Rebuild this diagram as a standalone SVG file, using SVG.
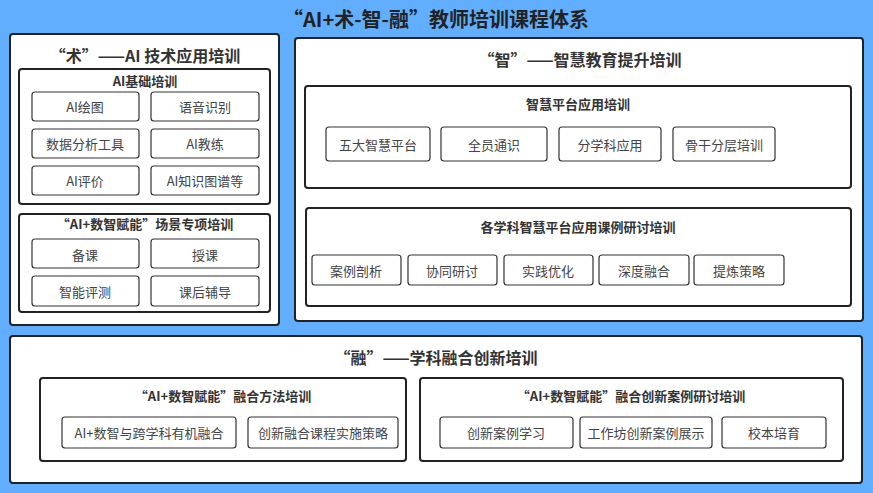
<svg xmlns="http://www.w3.org/2000/svg" width="873" height="493" viewBox="0 0 873 493">
<style>
text{font-family:"Noto Sans CJK SC","Liberation Sans",sans-serif;fill:#333;text-anchor:middle;dominant-baseline:central}
.o{fill:#fff;stroke:#222;stroke-width:2}
.b{fill:#fff;stroke:#333;stroke-width:1.2}
.t{font-size:20px;font-weight:bold;fill:#222}
.h{font-size:16px;font-weight:bold}
.s{font-size:13px;font-weight:bold}
.l{font-size:13px;fill:#444}
</style>
<rect width="873" height="493" fill="#62aefe"/>
<text class="t" x="436" y="18">“AI+术-智-融”教师培训课程体系</text>
<g id="shu">
<rect class="o" x="10" y="34" width="269" height="291" rx="3"/>
<text class="h" x="145" y="55">“术”——AI 技术应用培训</text>
<g id="ai-basic">
<rect class="o" x="19" y="69" width="251" height="135" rx="3"/>
<text class="s" x="145" y="80">AI基础培训</text>
<rect class="b" x="32" y="92" width="107" height="29" rx="3"/><text class="l" x="85" y="106">AI绘图</text>
<rect class="b" x="151" y="92" width="108" height="29" rx="3"/><text class="l" x="205" y="106">语音识别</text>
<rect class="b" x="32" y="129" width="107" height="29" rx="3"/><text class="l" x="85" y="143">数据分析工具</text>
<rect class="b" x="151" y="129" width="108" height="29" rx="3"/><text class="l" x="205" y="143">AI教练</text>
<rect class="b" x="32" y="166" width="107" height="29" rx="3"/><text class="l" x="85" y="180">AI评价</text>
<rect class="b" x="151" y="166" width="108" height="29" rx="3"/><text class="l" x="205" y="180">AI知识图谱等</text>
</g>
<g id="scene">
<rect class="o" x="19" y="214" width="251" height="98" rx="3"/>
<text class="s" x="145" y="223">“AI+数智赋能”场景专项培训</text>
<rect class="b" x="32" y="239" width="107" height="29" rx="3"/><text class="l" x="85" y="254">备课</text>
<rect class="b" x="151" y="239" width="108" height="29" rx="3"/><text class="l" x="205" y="254">授课</text>
<rect class="b" x="32" y="276" width="107" height="30" rx="3"/><text class="l" x="85" y="291">智能评测</text>
<rect class="b" x="151" y="276" width="108" height="30" rx="3"/><text class="l" x="205" y="291">课后辅导</text>
</g>
</g>
<g id="zhi">
<rect class="o" x="295" y="38" width="568" height="283" rx="3"/>
<text class="h" x="580" y="59">“智”——智慧教育提升培训</text>
<g id="platform">
<rect class="o" x="305" y="86" width="546" height="102" rx="3"/>
<text class="s" x="578" y="103">智慧平台应用培训</text>
<rect class="b" x="326" y="127" width="104" height="34" rx="3"/><text class="l" x="378" y="144">五大智慧平台</text>
<rect class="b" x="441" y="127" width="106" height="34" rx="3"/><text class="l" x="494" y="144">全员通识</text>
<rect class="b" x="559" y="127" width="102" height="34" rx="3"/><text class="l" x="610" y="144">分学科应用</text>
<rect class="b" x="673" y="127" width="102" height="34" rx="3"/><text class="l" x="724" y="144">骨干分层培训</text>
</g>
<g id="cases">
<rect class="o" x="306" y="208" width="545" height="98" rx="3"/>
<text class="s" x="578" y="226">各学科智慧平台应用课例研讨培训</text>
<rect class="b" x="312" y="255" width="89" height="30" rx="3"/><text class="l" x="356" y="270">案例剖析</text>
<rect class="b" x="408" y="255" width="89" height="30" rx="3"/><text class="l" x="452" y="270">协同研讨</text>
<rect class="b" x="504" y="255" width="89" height="30" rx="3"/><text class="l" x="548" y="270">实践优化</text>
<rect class="b" x="599" y="255" width="90" height="30" rx="3"/><text class="l" x="644" y="270">深度融合</text>
<rect class="b" x="694" y="255" width="90" height="30" rx="3"/><text class="l" x="739" y="270">提炼策略</text>
</g>
</g>
<g id="rong">
<rect class="o" x="10" y="336" width="852" height="147" rx="3"/>
<text class="h" x="436" y="357">“融”——学科融合创新培训</text>
<g id="method">
<rect class="o" x="40" y="378" width="366" height="83" rx="3"/>
<text class="s" x="223" y="395">“AI+数智赋能”融合方法培训</text>
<rect class="b" x="62" y="417" width="174" height="31" rx="3"/><text class="l" x="149" y="432">AI+数智与跨学科有机融合</text>
<rect class="b" x="248" y="417" width="150" height="31" rx="3"/><text class="l" x="323" y="432">创新融合课程实施策略</text>
</g>
<g id="innov">
<rect class="o" x="420" y="378" width="423" height="83" rx="3"/>
<text class="s" x="631" y="395">“AI+数智赋能”融合创新案例研讨培训</text>
<rect class="b" x="440" y="417" width="133" height="31" rx="3"/><text class="l" x="506" y="432">创新案例学习</text>
<rect class="b" x="580" y="417" width="132" height="31" rx="3"/><text class="l" x="646" y="432">工作坊创新案例展示</text>
<rect class="b" x="722" y="417" width="104" height="31" rx="3"/><text class="l" x="774" y="432">校本培育</text>
</g>
</g>
<g id="connectors"/>
</svg>
